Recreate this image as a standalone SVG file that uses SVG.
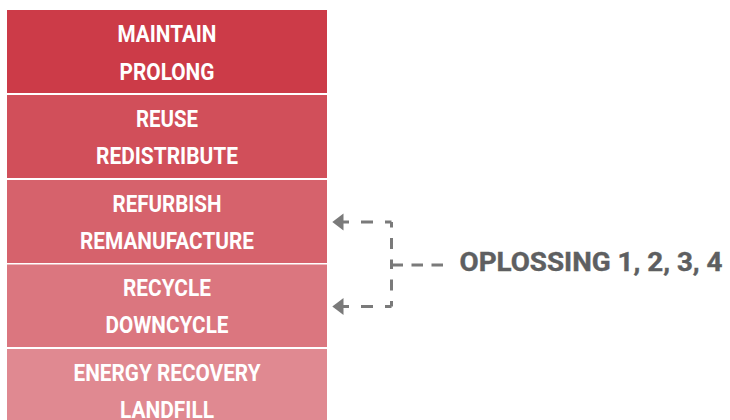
<svg xmlns="http://www.w3.org/2000/svg" width="730" height="420" viewBox="0 0 730 420">
<style>
.box{stroke:none}
.lbl{font-family:"Roboto","Liberation Sans",sans-serif;font-weight:700;font-size:23px;fill:#ffffff;text-anchor:middle}
.sol{font-family:"Roboto","Liberation Sans",sans-serif;font-weight:700;font-size:25.5px;fill:#5e5f61;stroke:#5e5f61;stroke-width:0.4}
.conn{fill:none;stroke:#7a7a7a;stroke-width:3}
.h{stroke-dasharray:12 12;stroke-dashoffset:5.5}
.v{stroke-dasharray:11 10.5;stroke-dashoffset:5.5}
.m{stroke-dasharray:11.5 8.5}
.head{fill:#7a7a7a}
</style>
<rect width="730" height="420" fill="#ffffff"/>
<g id="maintain">
<rect class="box" x="7" y="10" width="320" height="83" fill="#cc3b48"/>
<text class="lbl" x="167" y="42.3" textLength="99" lengthAdjust="spacingAndGlyphs">MAINTAIN</text>
<text class="lbl" x="167" y="80" textLength="95" lengthAdjust="spacingAndGlyphs">PROLONG</text>
</g>
<g id="reuse">
<rect class="box" x="7" y="95" width="320" height="83" fill="#d14f5a"/>
<text class="lbl" x="167" y="127.3" textLength="62" lengthAdjust="spacingAndGlyphs">REUSE</text>
<text class="lbl" x="167" y="164.3" textLength="142" lengthAdjust="spacingAndGlyphs">REDISTRIBUTE</text>
</g>
<g id="refurbish">
<rect class="box" x="7" y="180" width="320" height="83" fill="#d6626c"/>
<text class="lbl" x="167" y="212.3" textLength="109" lengthAdjust="spacingAndGlyphs">REFURBISH</text>
<text class="lbl" x="167" y="249" textLength="174" lengthAdjust="spacingAndGlyphs">REMANUFACTURE</text>
</g>
<g id="recycle">
<rect class="box" x="7" y="264.5" width="320" height="82.5" fill="#db767f"/>
<text class="lbl" x="167" y="296.3" textLength="88" lengthAdjust="spacingAndGlyphs">RECYCLE</text>
<text class="lbl" x="167" y="333.3" textLength="123" lengthAdjust="spacingAndGlyphs">DOWNCYCLE</text>
</g>
<g id="energy">
<rect class="box" x="7" y="349" width="320" height="83" fill="#e08991"/>
<text class="lbl" x="167" y="381" textLength="187" lengthAdjust="spacingAndGlyphs">ENERGY RECOVERY</text>
<text class="lbl" x="167" y="418.3" textLength="94" lengthAdjust="spacingAndGlyphs">LANDFILL</text>
</g>
<g id="connectors">
<path class="conn h" d="M391.5,222 H342"/>
<path class="conn h" d="M391.5,306.5 H342"/>
<path class="conn v" d="M391.5,222 V265"/>
<path class="conn v" d="M391.5,306.5 V265"/>
<path class="conn m" d="M391.5,265 H443"/>
<path class="head" d="M332.3,222 L343.5,213.5 L343.5,230.5 Z"/>
<path class="head" d="M332.3,306.5 L343.5,298 L343.5,315 Z"/>
</g>
<g id="oplossing">
<text class="sol" x="459.5" y="270.7" textLength="263" lengthAdjust="spacingAndGlyphs">OPLOSSING 1, 2, 3, 4</text>
</g>
</svg>
